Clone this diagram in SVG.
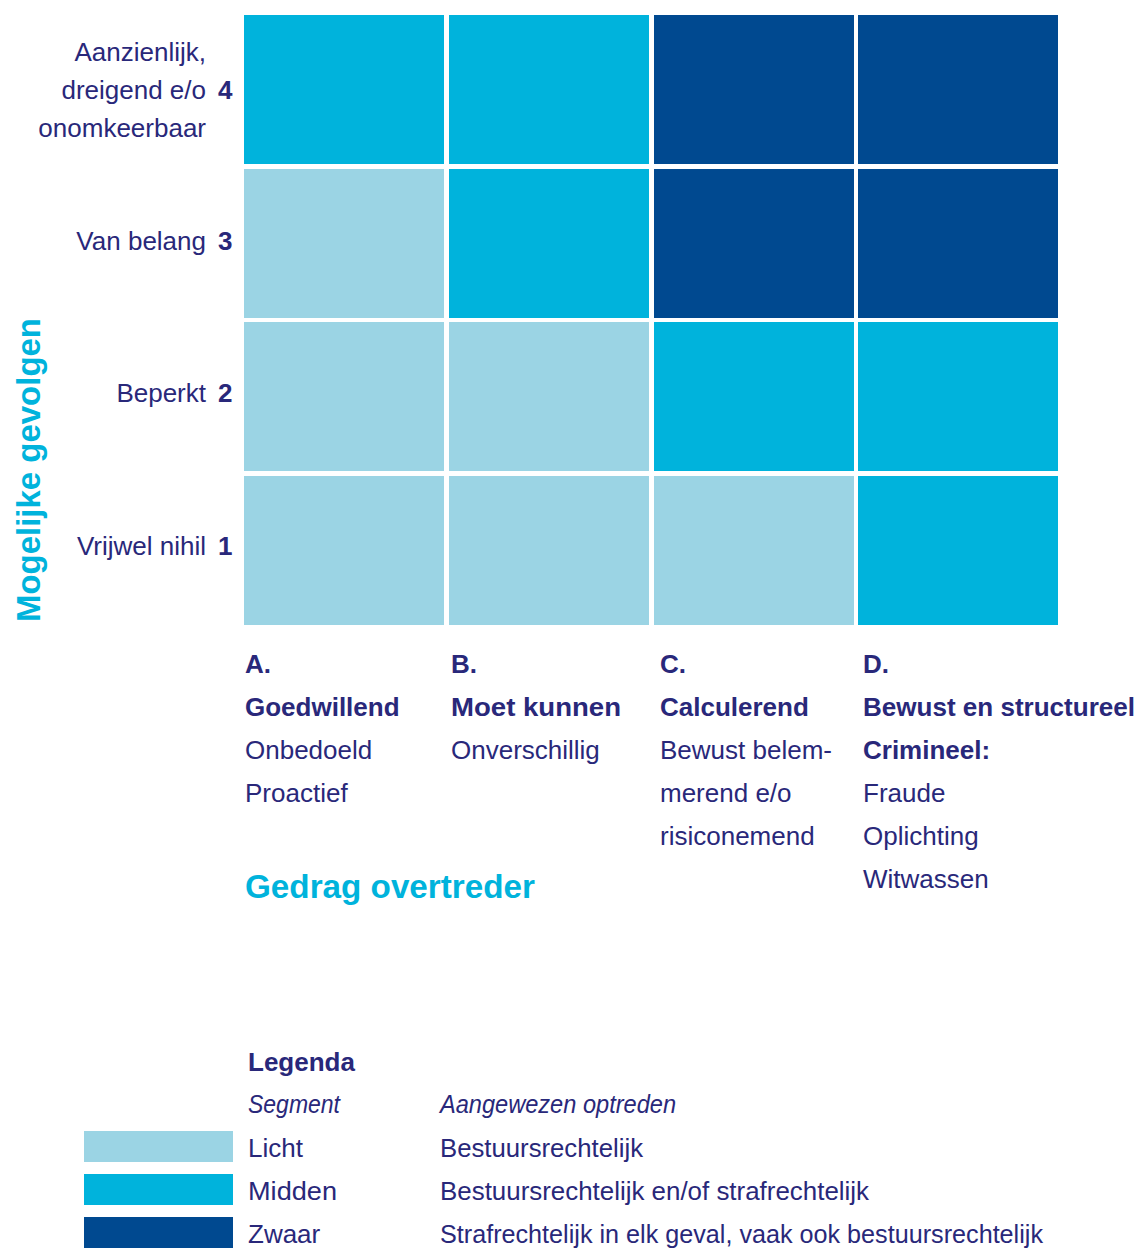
<svg xmlns="http://www.w3.org/2000/svg" width="1138" height="1251" viewBox="0 0 1138 1251">
<style>
text{font-family:"Liberation Sans","Open Sans",Arial,sans-serif;fill:#29287A;font-size:26px}
.b{font-weight:bold}
.i{font-style:italic}
.e{text-anchor:end}
.cy{fill:#00B3DC;font-weight:bold}
.l{fill:#9BD4E4}
.m{fill:#00B3DC}
.d{fill:#004990}
</style>
<rect width="1138" height="1251" fill="#fff"/>
<g id="matrix">
<g id="row4">
<rect class="m" x="244" y="15" width="200" height="149"/>
<rect class="m" x="449" y="15" width="200" height="149"/>
<rect class="d" x="654" y="15" width="200" height="149"/>
<rect class="d" x="858" y="15" width="200" height="149"/>
</g>
<g id="row3">
<rect class="l" x="244" y="169" width="200" height="149"/>
<rect class="m" x="449" y="169" width="200" height="149"/>
<rect class="d" x="654" y="169" width="200" height="149"/>
<rect class="d" x="858" y="169" width="200" height="149"/>
</g>
<g id="row2">
<rect class="l" x="244" y="322" width="200" height="149"/>
<rect class="l" x="449" y="322" width="200" height="149"/>
<rect class="m" x="654" y="322" width="200" height="149"/>
<rect class="m" x="858" y="322" width="200" height="149"/>
</g>
<g id="row1">
<rect class="l" x="244" y="476" width="200" height="149"/>
<rect class="l" x="449" y="476" width="200" height="149"/>
<rect class="l" x="654" y="476" width="200" height="149"/>
<rect class="m" x="858" y="476" width="200" height="149"/>
</g>
</g>
<g id="y-axis">
<text class="cy" style="font-size:33px" text-anchor="middle" transform="translate(40,470) rotate(-90)" textLength="304" lengthAdjust="spacingAndGlyphs">Mogelijke gevolgen</text>
<g id="label4">
<text class="e" x="206" y="61">Aanzienlijk,</text>
<text class="e" x="206" y="99">dreigend e/o</text>
<text class="e" x="206" y="137">onomkeerbaar</text>
<text class="b" x="218" y="99">4</text>
</g>
<g id="label3">
<text class="e" x="206" y="250">Van belang</text>
<text class="b" x="218" y="250">3</text>
</g>
<g id="label2">
<text class="e" x="206" y="402">Beperkt</text>
<text class="b" x="218" y="402">2</text>
</g>
<g id="label1">
<text class="e" x="206" y="555">Vrijwel nihil</text>
<text class="b" x="218" y="555">1</text>
</g>
</g>
<g id="x-axis">
<g id="colA">
<text class="b" x="245" y="673">A.</text>
<text class="b" x="245" y="716">Goedwillend</text>
<text x="245" y="759">Onbedoeld</text>
<text x="245" y="802">Proactief</text>
</g>
<g id="colB">
<text class="b" x="451" y="673">B.</text>
<text class="b" x="451" y="716" textLength="170" lengthAdjust="spacingAndGlyphs">Moet kunnen</text>
<text x="451" y="759">Onverschillig</text>
</g>
<g id="colC">
<text class="b" x="660" y="673">C.</text>
<text class="b" x="660" y="716">Calculerend</text>
<text x="660" y="759">Bewust belem-</text>
<text x="660" y="802">merend e/o</text>
<text x="660" y="845">risiconemend</text>
</g>
<g id="colD">
<text class="b" x="863" y="673">D.</text>
<text class="b" x="863" y="716" textLength="272" lengthAdjust="spacingAndGlyphs">Bewust en structureel</text>
<text class="b" x="863" y="759">Crimineel:</text>
<text x="863" y="802">Fraude</text>
<text x="863" y="845">Oplichting</text>
<text x="863" y="888">Witwassen</text>
</g>
<text class="cy" style="font-size:33px" x="245" y="898" textLength="290" lengthAdjust="spacingAndGlyphs">Gedrag overtreder</text>
</g>
<g id="legend">
<text class="b" x="248" y="1071">Legenda</text>
<text class="i" x="248" y="1113" textLength="92" lengthAdjust="spacingAndGlyphs">Segment</text>
<text class="i" x="440" y="1113" textLength="236" lengthAdjust="spacingAndGlyphs">Aangewezen optreden</text>
<g id="legend-licht">
<rect class="l" x="84" y="1131" width="149" height="31"/>
<text x="248" y="1157">Licht</text>
<text x="440" y="1157" textLength="203" lengthAdjust="spacingAndGlyphs">Bestuursrechtelijk</text>
</g>
<g id="legend-midden">
<rect class="m" x="84" y="1174" width="149" height="31"/>
<text x="248" y="1200" textLength="89" lengthAdjust="spacingAndGlyphs">Midden</text>
<text x="440" y="1200" textLength="429" lengthAdjust="spacingAndGlyphs">Bestuursrechtelijk en/of strafrechtelijk</text>
</g>
<g id="legend-zwaar">
<rect class="d" x="84" y="1217" width="149" height="31"/>
<text x="248" y="1243">Zwaar</text>
<text x="440" y="1243" textLength="603" lengthAdjust="spacingAndGlyphs">Strafrechtelijk in elk geval, vaak ook bestuursrechtelijk</text>
</g>
</g>
</svg>
